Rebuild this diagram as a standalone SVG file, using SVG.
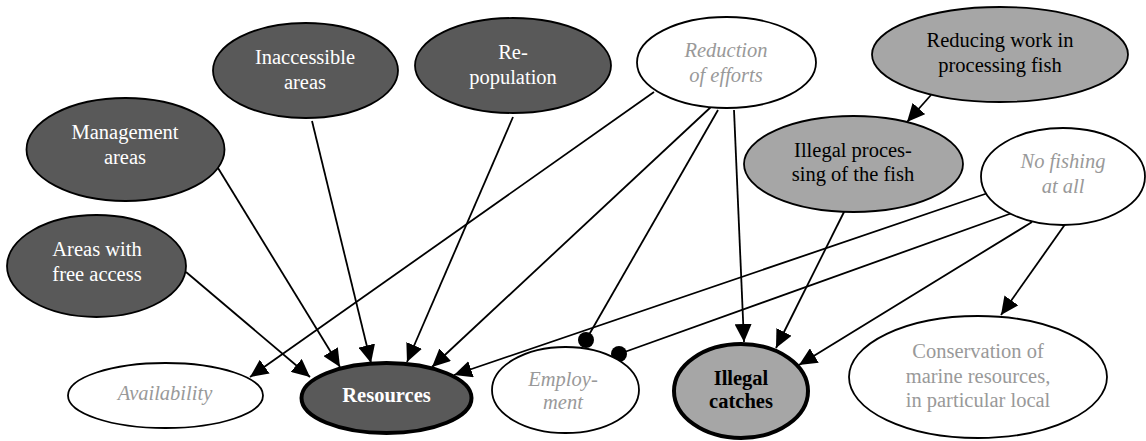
<svg xmlns="http://www.w3.org/2000/svg" width="1146" height="441" viewBox="0 0 1146 441">
<style>
text{font-size:20.5px;text-anchor:middle}
.dark{fill:#595959;stroke:#000;stroke-width:1.8}
.mid{fill:#a6a6a6;stroke:#000;stroke-width:1.8}
.white{fill:#fff;stroke:#000;stroke-width:1.8}
.thick{stroke-width:4}
.wt{fill:#fff}
.bt{fill:#000}
.gt{fill:#999}
.it{font-style:italic}
.b{font-weight:bold}
.edge{stroke:#000;stroke-width:1.8;fill:none}
</style>
<defs>
<marker id="arr" markerUnits="userSpaceOnUse" markerWidth="19" markerHeight="17" refX="18" refY="8.5" orient="auto">
<path d="M0,0 L18,8.5 L0,17 z" fill="#000"/>
</marker>
</defs>
<rect width="1146" height="441" fill="#fff"/>
<g id="connectors">
<line class="edge" x1="218" y1="168" x2="340" y2="367" marker-end="url(#arr)"/>
<line class="edge" x1="312" y1="121" x2="371" y2="363" marker-end="url(#arr)"/>
<line class="edge" x1="513" y1="117" x2="407" y2="362" marker-end="url(#arr)"/>
<line class="edge" x1="654" y1="92" x2="250" y2="377" marker-end="url(#arr)"/>
<line class="edge" x1="712" y1="106" x2="432" y2="367" marker-end="url(#arr)"/>
<line class="edge" x1="718" y1="110" x2="586" y2="340"/>
<circle cx="586" cy="340" r="8" fill="#000"/>
<line class="edge" x1="734" y1="110" x2="744" y2="342" marker-end="url(#arr)"/>
<line class="edge" x1="931" y1="95" x2="907" y2="122" marker-end="url(#arr)"/>
<line class="edge" x1="846" y1="208" x2="776" y2="348" marker-end="url(#arr)"/>
<line class="edge" x1="988" y1="193" x2="454" y2="375" marker-end="url(#arr)"/>
<line class="edge" x1="1015" y1="212" x2="619" y2="354"/>
<circle cx="619" cy="354" r="8" fill="#000"/>
<line class="edge" x1="1032" y1="222" x2="799" y2="365" marker-end="url(#arr)"/>
<line class="edge" x1="1066" y1="223" x2="1001" y2="315" marker-end="url(#arr)"/>
<line class="edge" x1="186" y1="272" x2="310" y2="377" marker-end="url(#arr)"/>
</g>
<g font-family="'Liberation Serif', 'DejaVu Serif', serif">
<g id="management">
<ellipse class="dark" cx="125.5" cy="149.5" rx="99" ry="51.5"/>
<text class="wt" x="125" y="139">Management</text>
<text class="wt" x="125" y="164">areas</text>
</g>
<g id="inaccessible">
<ellipse class="dark" cx="305.5" cy="70.5" rx="92.5" ry="47.5"/>
<text class="wt" x="305" y="64">Inaccessible</text>
<text class="wt" x="305" y="89">areas</text>
</g>
<g id="repopulation">
<ellipse class="dark" cx="513" cy="65.5" rx="98" ry="47.5"/>
<text class="wt" x="513" y="59">Re-</text>
<text class="wt" x="513" y="84">population</text>
</g>
<g id="reduction">
<ellipse class="white" cx="726.5" cy="62.5" rx="89.5" ry="45.5"/>
<text class="gt it" x="726" y="57">Reduction</text>
<text class="gt it" x="726" y="82">of efforts</text>
</g>
<g id="reducingwork">
<ellipse class="mid" cx="1000" cy="54.5" rx="128" ry="47.5"/>
<text class="bt" x="1000" y="47">Reducing work in</text>
<text class="bt" x="1000" y="72">processing fish</text>
</g>
<g id="illegalprocessing">
<ellipse class="mid" cx="853.5" cy="164" rx="109.5" ry="48"/>
<text class="bt" x="853" y="157">Illegal proces-</text>
<text class="bt" x="853" y="181">sing of the fish</text>
</g>
<g id="nofishing">
<ellipse class="white" cx="1063" cy="176.5" rx="82" ry="48.5"/>
<text class="gt it" x="1063" y="168">No fishing</text>
<text class="gt it" x="1063" y="193">at all</text>
</g>
<g id="freeaccess">
<ellipse class="dark" cx="96.5" cy="266" rx="89.5" ry="51"/>
<text class="wt" x="97" y="256">Areas with</text>
<text class="wt" x="97" y="281">free access</text>
</g>
<g id="availability">
<ellipse class="white" cx="165.5" cy="395.5" rx="97.5" ry="32.5"/>
<text class="gt it" x="165" y="400">Availability</text>
</g>
<g id="resources">
<ellipse class="dark thick" cx="386.5" cy="398" rx="85" ry="35"/>
<text class="wt b" x="386.5" y="402">Resources</text>
</g>
<g id="employment">
<ellipse class="white" cx="565.5" cy="390" rx="73.5" ry="43"/>
<text class="gt it" x="563" y="386">Employ-</text>
<text class="gt it" x="563" y="409">ment</text>
</g>
<g id="illegalcatches">
<ellipse class="mid thick" cx="741" cy="391" rx="67" ry="47"/>
<text class="bt b" x="741" y="385">Illegal</text>
<text class="bt b" x="741" y="408">catches</text>
</g>
<g id="conservation">
<ellipse class="white" cx="978" cy="377" rx="129" ry="61"/>
<text class="gt" x="978" y="358">Conservation of</text>
<text class="gt" x="978" y="383">marine resources,</text>
<text class="gt" x="978" y="407">in particular local</text>
</g>
</g>
</svg>
